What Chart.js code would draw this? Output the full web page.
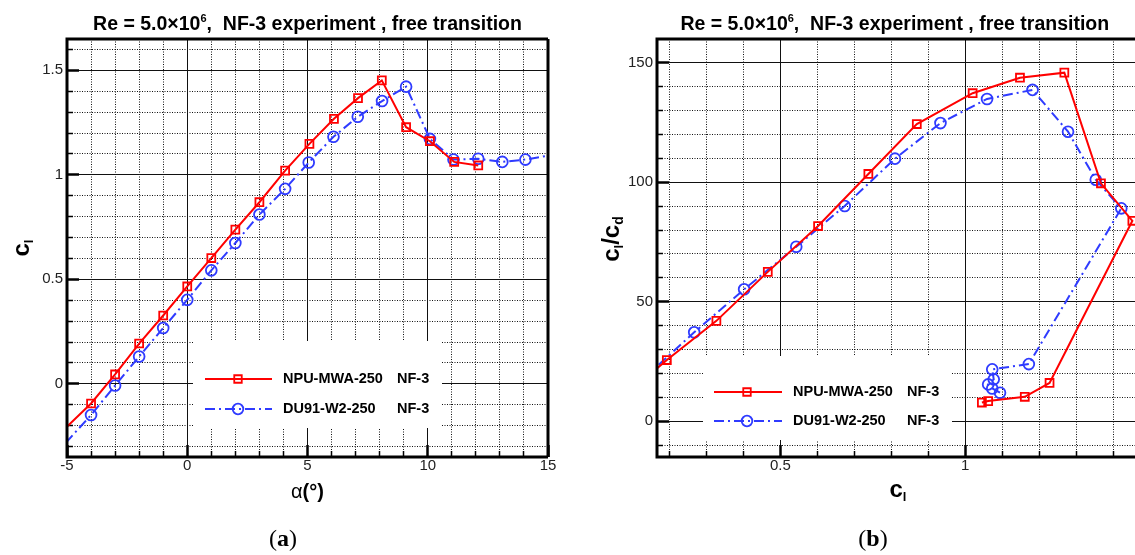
<!DOCTYPE html>
<html>
<head>
<meta charset="utf-8">
<script src="https://cdn.jsdelivr.net/npm/chart.js@4.4.1/dist/chart.umd.min.js"></script>
<style>
html, body { margin: 0; padding: 0; background: #fff; overflow: hidden; width: 1135px; height: 555px; }
#ca { position: absolute; left: 0; top: 0; }
#cb { position: absolute; left: 570px; top: 0; }
.cap { position: absolute; top: 526px; width: 100px; text-align: center; line-height: 24px;
       font-family: 'Liberation Serif', 'DejaVu Serif', serif; font-size: 24px; color: #000; }
</style>
</head>
<body>
<canvas id="ca" width="570" height="555"></canvas>
<canvas id="cb" width="586" height="555"></canvas>
<div class="cap" style="left:233px">(<b>a</b>)</div>
<div class="cap" style="left:823px">(<b>b</b>)</div>
<script>
// NPU-MWA-250, NF-3 tunnel, free transition
const alphaNPU = [-5.05, -4, -3, -2, -1, 0, 1, 2, 3, 4.07, 5.08, 6.1, 7.1, 8.09, 9.1, 10.09, 11.1, 12.1];
const clNPU    = [-0.21, -0.094, 0.045, 0.193, 0.327, 0.466, 0.602, 0.738, 0.869, 1.02, 1.148, 1.268, 1.367, 1.452, 1.228, 1.161, 1.062, 1.045];
const ldNPU    = [null, null, 6, 25.6, 42.0, 62.5, 81.7, 103.5, 124.4, 137.3, 143.8, 145.9, 99.6, 83.9, 16.0, 10.2, 8.4, 7.8];

// DU91-W2-250
const alphaDU = [-5.05, -4, -3, -2, -1, 0, 1, 2, 3, 4.07, 5.05, 6.08, 7.09, 8.1, 9.1, 10.09, 11.07, 12.1, 13.1, 14.06, 15.1];
const clDU    = [-0.282, -0.149, -0.008, 0.131, 0.267, 0.402, 0.543, 0.674, 0.810, 0.933, 1.059, 1.182, 1.278, 1.353, 1.422, 1.172, 1.073, 1.077, 1.062, 1.073, 1.094];
const ldDU    = [null, null, null, 18, 37.2, 55.2, 73.0, 90.1, 109.9, 124.8, 134.9, 138.7, 121.2, 101.1, 89.1, 23.9, 21.7, 17.5, 15.4, 13.7, 11.9];

const seriesNames = ['NPU-MWA-250', 'DU91-W2-250'];
const seriesTag = 'NF-3';

// tick labels
const alphaMajor = [-5, 0, 5, 10, 15];
const clMajor = [0, 0.5, 1, 1.5];
const clxMajor = [0.5, 1];
const ldMajor = [0, 50, 100, 150];

function steps(a, b, s, major) {
    var out = [];
    for (var v = a; v <= b + s / 1000; v += s) {
        var r = Math.round(v * 1000) / 1000;
        if (Math.abs(r / major - Math.round(r / major)) > 1e-6) out.push(r);
    }
    return out;
}
const alphaMinor = steps(-4, 14, 1, 5);
const clMinor = steps(-0.3, 1.6, 0.1, 0.5);
const clxMinor = steps(0.2, 1.4, 0.1, 0.5);
const ldMinor = steps(-10, 150, 10, 50);

const RED = '#ff0000';
const BLUE = '#2f3bff';
const SANS = "'Liberation Sans', Arial, 'DejaVu Sans', sans-serif";
Chart.defaults.font.family = SANS;

function B(s) { return 'bold ' + s + 'px ' + SANS; }
function R(s) { return s + 'px ' + SANS; }

function minorAxis(axis, min, max, list) {
    return {
        type: 'linear', position: axis === 'x' ? 'bottom' : 'left', weight: 0, min: min, max: max,
        afterBuildTicks: function (s) { s.ticks = list.map(function (v) { return { value: v }; }); },
        afterFit: function (s) { if (axis === 'x') s.height = 0; else s.width = 0; },
        grid: { color: '#111', lineWidth: 1, drawTicks: true, tickLength: -6, tickWidth: 1.5, tickColor: '#000', z: -1 },
        border: { display: false, dash: [1, 1.5] },
        ticks: { display: false }
    };
}

function majorAxis(axis, min, max, list, size) {
    return {
        type: 'linear', position: axis === 'x' ? 'bottom' : 'left', weight: 1, min: min, max: max,
        afterBuildTicks: function (s) { s.ticks = list.map(function (v) { return { value: v }; }); },
        afterFit: function (s) { if (axis === 'x') s.height = size; else s.width = size; },
        grid: { color: '#111', lineWidth: 1, drawTicks: true, tickLength: -12, tickWidth: 2.5, tickColor: '#000', z: 0 },
        border: { display: false },
        ticks: {
            color: '#222', font: { size: 15 }, padding: axis === 'x' ? 12 : 16,
            autoSkip: false, maxRotation: 0,
            callback: function (v) { return String(v); }
        }
    };
}

function drawRuns(ctx, parts, x, y, align) {
    var w = 0;
    parts.forEach(function (p) { ctx.font = p.f; w += ctx.measureText(p.t).width; });
    var cx = align === 'center' ? x - w / 2 : x;
    parts.forEach(function (p) {
        ctx.font = p.f;
        ctx.fillText(p.t, cx, y + (p.dy || 0));
        cx += ctx.measureText(p.t).width;
    });
}

const titleParts = [
    { t: 'Re = 5.0\u00d710', f: B(19.5) },
    { t: '6', f: B(11), dy: -8 },
    { t: ',  NF-3 experiment , free transition', f: B(19.5) }
];

function figPlugin(cfg) {
    return {
        id: 'fig',
        beforeDatasetsDraw: function (chart) {
            var ctx = chart.ctx, L = cfg.legend;
            ctx.save();
            ctx.fillStyle = '#fff';
            ctx.fillRect(L.x0, L.y0, L.x1 - L.x0, L.y1 - L.y0);
            ctx.restore();
        },
        afterDraw: function (chart) {
            var ctx = chart.ctx, a = chart.chartArea, L = cfg.legend;
            ctx.save();
            // frame
            ctx.strokeStyle = '#000';
            ctx.lineWidth = 3;
            ctx.beginPath();
            ctx.moveTo(a.right, a.top); ctx.lineTo(a.left, a.top);
            ctx.lineTo(a.left, a.bottom); ctx.lineTo(a.right, a.bottom);
            if (cfg.rightSide) { ctx.moveTo(a.right, a.top); ctx.lineTo(a.right, a.bottom); }
            ctx.stroke();

            // legend entries
            chart.data.datasets.forEach(function (ds, i) {
                var y = L.rows[i];
                ctx.strokeStyle = ds.borderColor;
                ctx.lineWidth = ds.borderWidth;
                ctx.setLineDash(ds.borderDash || []);
                ctx.beginPath(); ctx.moveTo(L.lx0, y); ctx.lineTo(L.lx1, y); ctx.stroke();
                ctx.setLineDash([]);
                ctx.lineWidth = ds.pointBorderWidth;
                ctx.fillStyle = '#fff';
                var r = 5.3;
                ctx.beginPath();
                if (ds.pointStyle === 'rect') {
                    var h = r * Math.SQRT1_2;
                    ctx.rect(L.mx - h, y - h, 2 * h, 2 * h);
                } else {
                    ctx.arc(L.mx, y, r, 0, Math.PI * 2);
                }
                ctx.stroke();
                ctx.fillStyle = '#000';
                ctx.font = B(14.5);
                ctx.textBaseline = 'middle';
                ctx.textAlign = 'left';
                ctx.fillText(ds.label, L.tx, y);
                ctx.fillText(seriesTag, L.tagx, y);
            });

            ctx.textBaseline = 'alphabetic';
            ctx.textAlign = 'left';
            ctx.fillStyle = '#000';
            drawRuns(ctx, titleParts, cfg.titleX, 30, 'center');
            drawRuns(ctx, cfg.xTitle, cfg.xTitleX, cfg.xTitleY, 'center');
            ctx.translate(cfg.yTitleX, cfg.yTitleY);
            ctx.rotate(-Math.PI / 2);
            drawRuns(ctx, cfg.yTitle, 0, 0, 'center');
            ctx.restore();
        }
    };
}

function radiusIn(min, max, r) {
    return function (c) { return c.raw && c.raw.x >= min && c.raw.x <= max ? r : 0; };
}

function seriesStyle(i, min, max) {
    var red = i === 0;
    return {
        label: seriesNames[i],
        showLine: true,
        borderColor: red ? RED : BLUE,
        borderWidth: 2,
        borderDash: red ? [] : [10, 4, 2, 4],
        pointStyle: red ? 'rect' : 'circle',
        pointRadius: radiusIn(min, max, red ? 5.6 : 5.4),
        pointBorderWidth: 1.8,
        pointBorderColor: red ? RED : BLUE,
        pointBackgroundColor: 'rgba(255,255,255,0)',
        clip: 0,
        tension: 0
    };
}

function pairs(xs, ys) {
    var out = [];
    for (var i = 0; i < xs.length; i++) if (ys[i] !== null) out.push({ x: xs[i], y: ys[i] });
    return out;
}

// (a) lift curve
new Chart(document.getElementById('ca'), {
    type: 'scatter',
    data: {
        datasets: [
            Object.assign(seriesStyle(0, -5, 15), { data: pairs(alphaNPU, clNPU) }),
            Object.assign(seriesStyle(1, -5, 15), { data: pairs(alphaDU, clDU) })
        ]
    },
    options: {
        responsive: false, animation: false, events: [],
        layout: { padding: { left: 0, top: 39, right: 22, bottom: 68 } },
        scales: {
            x: minorAxis('x', -5, 15, alphaMinor),
            xM: majorAxis('x', -5, 15, alphaMajor, 30),
            y: minorAxis('y', -0.35, 1.65, clMinor),
            yM: majorAxis('y', -0.35, 1.65, clMajor, 67)
        },
        plugins: { legend: { display: false }, tooltip: { enabled: false } }
    },
    plugins: [figPlugin({
        rightSide: true,
        legend: { x0: 193, y0: 341, x1: 442, y1: 428, rows: [379, 409], lx0: 205, lx1: 272, mx: 238, tx: 283, tagx: 397 },
        titleX: 307.5,
        xTitle: [{ t: '\u03b1', f: R(20) }, { t: '(\u00b0)', f: B(20) }],
        xTitleX: 307.5, xTitleY: 498,
        yTitle: [{ t: 'c', f: B(24) }, { t: 'l', f: B(13), dy: 4 }],
        yTitleX: 29, yTitleY: 248
    })]
});

// (b) lift-to-drag ratio
new Chart(document.getElementById('cb'), {
    type: 'scatter',
    data: {
        datasets: [
            Object.assign(seriesStyle(0, 0.1664, 1.4618), { data: pairs(clNPU, ldNPU) }),
            Object.assign(seriesStyle(1, 0.1664, 1.4618), { data: pairs(clDU, ldDU) })
        ]
    },
    options: {
        responsive: false, animation: false, events: [],
        layout: { padding: { left: 0, top: 39, right: 20, bottom: 68 } },
        scales: {
            x: minorAxis('x', 0.1664, 1.4618, clxMinor),
            xM: majorAxis('x', 0.1664, 1.4618, clxMajor, 30),
            y: minorAxis('y', -15, 160, ldMinor),
            yM: majorAxis('y', -15, 160, ldMajor, 87)
        },
        plugins: { legend: { display: false }, tooltip: { enabled: false } }
    },
    plugins: [figPlugin({
        rightSide: false,
        legend: { x0: 133, y0: 356, x1: 382, y1: 440, rows: [392, 421], lx0: 144, lx1: 212, mx: 177, tx: 223, tagx: 337 },
        titleX: 324.8,
        xTitle: [{ t: 'c', f: B(24) }, { t: 'l', f: B(13), dy: 4 }],
        xTitleX: 328, xTitleY: 497,
        yTitle: [{ t: 'c', f: B(24) }, { t: 'l', f: B(13), dy: 4 }, { t: '/', f: B(24) }, { t: 'c', f: B(24) }, { t: 'd', f: B(14), dy: 4 }],
        yTitleX: 49, yTitleY: 239
    })]
});
</script>
</body>
</html>
